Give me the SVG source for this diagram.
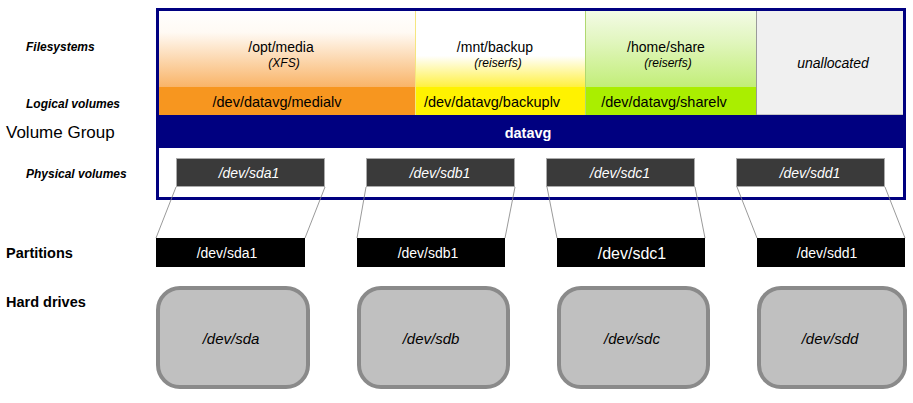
<svg xmlns="http://www.w3.org/2000/svg" width="913" height="403" viewBox="0 0 913 403">
<defs>
<linearGradient id="gOrange" x1="0" y1="0" x2="0" y2="1">
<stop offset="0" stop-color="#ffffff"/>
<stop offset="0.3" stop-color="#fffaf4"/>
<stop offset="1" stop-color="#f9b468"/>
</linearGradient>
<linearGradient id="gYellow" x1="0" y1="0" x2="0" y2="1">
<stop offset="0" stop-color="#ffffff"/>
<stop offset="0.6" stop-color="#ffffff"/>
<stop offset="1" stop-color="#fff040"/>
</linearGradient>
<linearGradient id="gGreen" x1="0" y1="0" x2="0" y2="1">
<stop offset="0" stop-color="#f4fbe8"/>
<stop offset="0.4" stop-color="#e2f6c0"/>
<stop offset="1" stop-color="#c2ee78"/>
</linearGradient>
<style>
text{font-family:"Liberation Sans",Arial,sans-serif;}
.lbl{font-size:12px;font-weight:bold;font-style:italic;fill:#000;}
.lblb{font-size:14.5px;font-weight:bold;fill:#000;}
.fs{font-size:14px;fill:#000;text-anchor:middle;}
.fst{font-size:12px;font-style:italic;fill:#000;text-anchor:middle;}
.lv{font-size:14.5px;fill:#000;text-anchor:middle;}
.pv rect{fill:#3a3a3a;stroke:#aaaaaa;stroke-width:1;}
.pv text{font-size:14px;font-style:italic;fill:#ffffff;text-anchor:middle;}
.part rect{fill:#000000;}
.part text{font-size:14px;fill:#ffffff;text-anchor:middle;}
.hd rect{fill:#c0c0c0;stroke:#8a8a8a;stroke-width:4;}
.hd text{font-size:15px;font-style:italic;fill:#000;text-anchor:middle;}
.conn line{stroke:#808080;stroke-width:0.8;}
</style>
</defs>
<rect width="913" height="403" fill="#ffffff"/>

<g id="labels">
<text class="lbl" x="26" y="51">Filesystems</text>
<text class="lbl" x="26" y="108">Logical volumes</text>
<text x="6" y="138" font-size="17" fill="#000">Volume Group</text>
<text class="lbl" x="26" y="178">Physical volumes</text>
<text class="lblb" x="6" y="258">Partitions</text>
<text class="lblb" x="6" y="307">Hard drives</text>
</g>

<g id="fs-media">
<rect x="157" y="9" width="258" height="78" fill="url(#gOrange)"/>
<rect x="157" y="87" width="258" height="28" fill="#f7961f"/>
<text class="fs" x="281" y="52">/opt/media</text>
<text class="fst" x="284" y="67">(XFS)</text>
<text class="lv" x="277" y="107">/dev/datavg/medialv</text>
</g>
<g id="fs-backup">
<rect x="415" y="9" width="170" height="78" fill="url(#gYellow)"/>
<rect x="415" y="87" width="170" height="28" fill="#fff200"/>
<line x1="415.5" y1="9" x2="415.5" y2="115" stroke="#f5e680" stroke-width="1"/>
<text class="fs" x="495" y="52">/mnt/backup</text>
<text class="fst" x="498" y="67">(reiserfs)</text>
<text class="lv" x="492" y="107">/dev/datavg/backuplv</text>
</g>
<g id="fs-share">
<rect x="585" y="9" width="171" height="78" fill="url(#gGreen)"/>
<rect x="585" y="87" width="171" height="28" fill="#aaee00"/>
<line x1="585.5" y1="9" x2="585.5" y2="115" stroke="#b0d870" stroke-width="1"/>
<text class="fs" x="666" y="52">/home/share</text>
<text class="fst" x="668" y="67">(reiserfs)</text>
<text class="lv" x="664" y="107">/dev/datavg/sharelv</text>
</g>
<g id="fs-unallocated">
<rect x="756.5" y="9" width="148" height="106" fill="#f0f0f0" stroke="#9a9a9a" stroke-width="1"/>
<text x="833" y="68" font-size="14" font-style="italic" text-anchor="middle" fill="#000">unallocated</text>
</g>

<g id="vg-datavg">
<rect x="157" y="115" width="748" height="33" fill="#000080"/>
<text x="528" y="138" font-size="14.5" font-weight="bold" fill="#ffffff" text-anchor="middle" font-family="DejaVu Sans, sans-serif">datavg</text>
</g>

<g id="vg-frame">
<rect x="157.5" y="9.5" width="747" height="189" fill="none" stroke="#000080" stroke-width="3"/>
</g>

<g id="pv-sda1" class="pv"><rect x="176.5" y="158.5" width="148" height="28"/><text x="249" y="178">/dev/sda1</text></g>
<g id="pv-sdb1" class="pv"><rect x="366.5" y="158.5" width="148" height="28"/><text x="440" y="178">/dev/sdb1</text></g>
<g id="pv-sdc1" class="pv"><rect x="546.5" y="158.5" width="148" height="28"/><text x="620" y="178">/dev/sdc1</text></g>
<g id="pv-sdd1" class="pv"><rect x="736.5" y="158.5" width="148" height="28"/><text x="810" y="178">/dev/sdd1</text></g>

<g id="connectors" class="conn">
<line x1="176" y1="187" x2="156" y2="238"/>
<line x1="325" y1="187" x2="305" y2="238"/>
<line x1="366" y1="187" x2="357" y2="238"/>
<line x1="515" y1="187" x2="505" y2="238"/>
<line x1="547" y1="187" x2="557" y2="238"/>
<line x1="695" y1="187" x2="705" y2="238"/>
<line x1="737" y1="187" x2="757" y2="238"/>
<line x1="885" y1="187" x2="905" y2="238"/>
</g>

<g id="part-sda1" class="part"><rect x="156" y="238" width="149" height="29"/><text x="227" y="258">/dev/sda1</text></g>
<g id="part-sdb1" class="part"><rect x="357" y="238" width="148" height="29"/><text x="428" y="258">/dev/sdb1</text></g>
<g id="part-sdc1" class="part"><rect x="557" y="238" width="148" height="29"/><text x="632" y="259" style="font-size:16px">/dev/sdc1</text></g>
<g id="part-sdd1" class="part"><rect x="757" y="238" width="148" height="29"/><text x="827" y="258">/dev/sdd1</text></g>

<g id="hd-sda" class="hd"><rect x="158" y="288" width="150" height="99" rx="22"/><text x="231" y="344">/dev/sda</text></g>
<g id="hd-sdb" class="hd"><rect x="359" y="288" width="149" height="99" rx="22"/><text x="431" y="344">/dev/sdb</text></g>
<g id="hd-sdc" class="hd"><rect x="559" y="288" width="149" height="99" rx="22"/><text x="632" y="344">/dev/sdc</text></g>
<g id="hd-sdd" class="hd"><rect x="759" y="288" width="146" height="99" rx="22"/><text x="830" y="344">/dev/sdd</text></g>
</svg>
